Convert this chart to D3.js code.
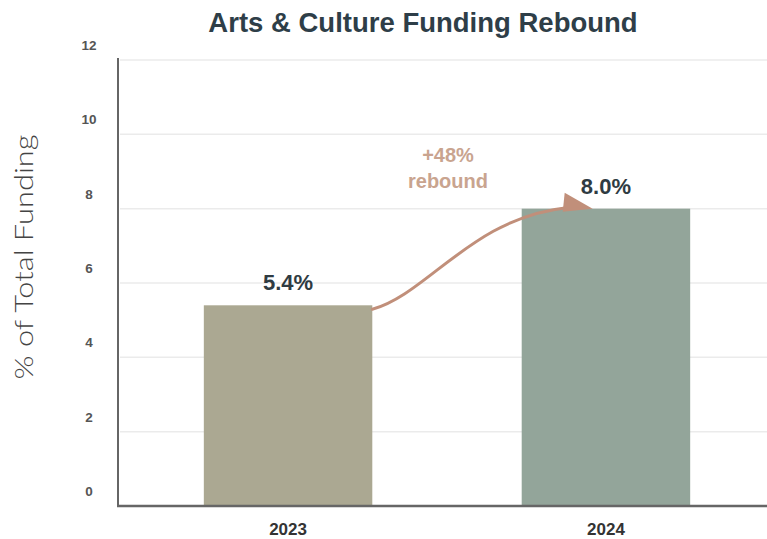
<!DOCTYPE html>
<html>
<head>
<meta charset="utf-8">
<script src="https://cdn.jsdelivr.net/npm/d3@7"></script>
<style>
  html, body { margin: 0; padding: 0; background: #fff; }
  svg { display: block; }
</style>
</head>
<body>
<svg id="chart" width="767" height="539"></svg>
<script>
// Share of total funding going to arts & culture, by year
const years = ["2023", "2024"];
const shares = [5.4, 8.0];
const barColors = ["#aba892", "#93a59a"];
const yTicks = [0, 2, 4, 6, 8, 10, 12];
const changeLabel = ["+48%", "rebound"];

const W = 767, H = 539;
const svg = d3.select("#chart");

const x = d3.scaleBand()
  .domain(years)
  .range([118, 776])
  .paddingInner(0.47)
  .paddingOuter(0.27);

const y = d3.scaleLinear().domain([0, 12]).range([506, 60]);

// Title
svg.append("text")
  .attr("x", 423).attr("y", 32)
  .attr("text-anchor", "middle")
  .attr("font-family", "Liberation Sans, Arial, sans-serif")
  .attr("font-weight", "bold")
  .attr("font-size", 27.5)
  .attr("fill", "#2e3e48")
  .text("Arts & Culture Funding Rebound");

// Horizontal gridlines
svg.append("g").selectAll("line")
  .data(yTicks.filter(d => d > 0))
  .join("line")
  .attr("x1", 120).attr("x2", W)
  .attr("y1", d => y(d)).attr("y2", d => y(d))
  .attr("stroke", "#ebebeb")
  .attr("stroke-width", 1.5);

// Y tick labels (sit a little above their gridlines)
svg.append("g").selectAll("text")
  .data(yTicks)
  .join("text")
  .attr("x", 89).attr("y", d => y(d) - 10)
  .attr("text-anchor", "middle")
  .attr("font-family", "Liberation Sans Narrow, Liberation Sans, Arial, sans-serif")
  .attr("font-weight", "bold")
  .attr("font-size", 13.5)
  .attr("fill", "#555")
  .text(d => d);

// Bars
svg.append("g").selectAll("rect")
  .data(years)
  .join("rect")
  .attr("x", d => x(d))
  .attr("width", x.bandwidth())
  .attr("y", (d, i) => y(shares[i]))
  .attr("height", (d, i) => y(0) - y(shares[i]))
  .attr("fill", (d, i) => barColors[i]);

// Value labels above bars
svg.append("g").selectAll("text")
  .data(years)
  .join("text")
  .attr("x", d => x(d) + x.bandwidth() / 2)
  .attr("y", (d, i) => y(shares[i]) - 15)
  .attr("text-anchor", "middle")
  .attr("font-family", "Liberation Sans, Arial, sans-serif")
  .attr("font-weight", "bold")
  .attr("font-size", 22)
  .attr("fill", "#2f3b42")
  .text((d, i) => shares[i].toFixed(1) + "%");

// Axes lines
svg.append("line")
  .attr("x1", 118).attr("x2", 118)
  .attr("y1", 58).attr("y2", y(0) + 1)
  .attr("stroke", "#666").attr("stroke-width", 2);
svg.append("line")
  .attr("x1", 117).attr("x2", W)
  .attr("y1", y(0)).attr("y2", y(0))
  .attr("stroke", "#666").attr("stroke-width", 2.5);

// X tick labels
svg.append("g").selectAll("text")
  .data(years)
  .join("text")
  .attr("x", d => x(d) + x.bandwidth() / 2)
  .attr("y", 535)
  .attr("text-anchor", "middle")
  .attr("font-family", "Liberation Sans Narrow, Liberation Sans, Arial, sans-serif")
  .attr("font-weight", "bold")
  .attr("font-size", 17)
  .attr("fill", "#333")
  .text(d => d);

// Y axis title
svg.append("text")
  .attr("transform", "translate(33, 257) rotate(-90)")
  .attr("text-anchor", "middle")
  .attr("font-family", "Lato, Open Sans, sans-serif")
  .attr("font-weight", 300)
  .attr("font-size", 26)
  .attr("textLength", 245)
  .attr("lengthAdjust", "spacingAndGlyphs")
  .attr("fill", "#444")
  .text("% of Total Funding");

// Curved arrow from 2023 bar top to 2024 bar top
const arrowColor = "#c18f7a";
const x0 = x(years[0]) + x.bandwidth(), y0 = y(shares[0]) + 4;
const x1 = x(years[1]) + 45, y1 = y(shares[1]) - 1;
const path = d3.path();
path.moveTo(x0, y0);
path.bezierCurveTo(x0 + 55, y0 - 15, x0 + 100, y1 + 10, x1, y1);
svg.append("path")
  .attr("d", path.toString())
  .attr("fill", "none")
  .attr("stroke", arrowColor)
  .attr("stroke-width", 3)
  .attr("stroke-linecap", "round");

// Arrowhead
const tipX = x1 + 26, tipY = y1 + 1;
svg.append("path")
  .attr("d", d3.line()([[x1 - 2, y1 - 15], [tipX, tipY], [x1 - 4, y1 + 4]]) + "Z")
  .attr("fill", arrowColor);

// Change annotation
svg.append("g").selectAll("text")
  .data(changeLabel)
  .join("text")
  .attr("x", 448)
  .attr("y", (d, i) => 162 + i * 26)
  .attr("text-anchor", "middle")
  .attr("font-family", "Liberation Sans, Arial, sans-serif")
  .attr("font-weight", "bold")
  .attr("font-size", 20)
  .attr("fill", "#c9a48f")
  .text(d => d);
</script>
</body>
</html>
